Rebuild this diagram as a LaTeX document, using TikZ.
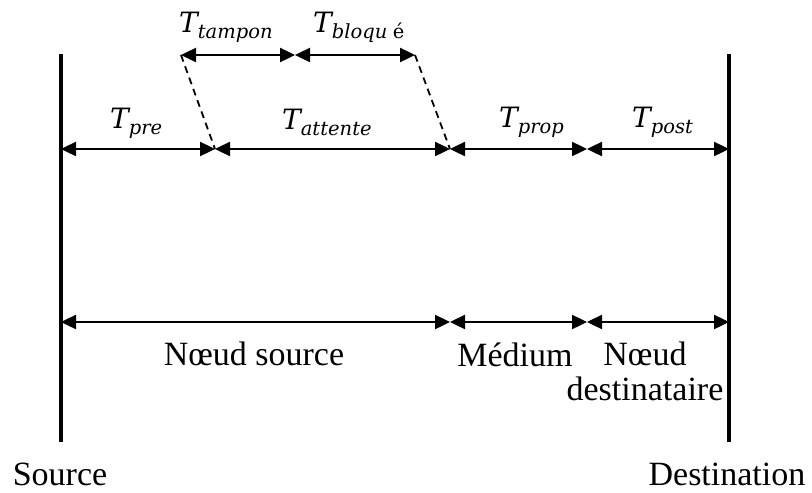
\documentclass[tikz,border=0pt]{standalone}
\usepackage{fontspec}
\setmainfont{Liberation Serif}
\newfontfamily\symfont{DejaVu Serif}
\usetikzlibrary{arrows.meta}
\newcommand\bigT{\fontsize{28}{30}\selectfont\symfont\itshape}
\newcommand\subT{\fontsize{19.5}{20}\selectfont\symfont\itshape}
\newcommand\Tlab[1]{{\bigT T}\raisebox{-6pt}{\subT #1}}
\begin{document}
\begin{tikzpicture}[x=1pt,y=-1pt,
  timeline/.style={line width=4pt},
  span/.style={line width=2.4pt,{Triangle[length=15pt,width=14pt]}-{Triangle[length=15pt,width=14pt]}},
  guide/.style={line width=1.8pt,dash pattern=on 7pt off 5pt},
  tlabel/.style={anchor=base west,inner sep=0pt},
  txt/.style={anchor=base,inner sep=0pt,font=\fontsize{34}{35}\selectfont,align=center}]
\useasboundingbox (0,0) rectangle (812,493);

% source and destination time lines
\coordinate (srcTop) at (61,54);   \coordinate (srcBot) at (61,442);
\coordinate (dstTop) at (729,54);  \coordinate (dstBot) at (729,442);
\draw[timeline] (srcTop) -- (srcBot);
\draw[timeline] (dstTop) -- (dstBot);

% delay components
\coordinate (a0) at (61,149);  \coordinate (a1) at (215,149);
\coordinate (a2) at (450,149); \coordinate (a3) at (587,149);
\coordinate (a4) at (729,149);
\draw[span] (a0) -- (a1);
\draw[span] (a1) -- (a2);
\draw[span] (a2) -- (a3);
\draw[span] (a3) -- (a4);

% split of the waiting time
\coordinate (b0) at (181,55); \coordinate (b1) at (295,55);
\coordinate (b2) at (415,55);
\draw[span] (b0) -- (b1);
\draw[span] (b1) -- (b2);
\draw[guide] (b0) -- (a1);
\draw[guide] (b2) -- (a2);

% where each delay occurs
\coordinate (c0) at (61,322);  \coordinate (c2) at (450,322);
\coordinate (c3) at (587,322); \coordinate (c4) at (729,322);
\draw[span] (c0) -- (c2);
\draw[span] (c2) -- (c3);
\draw[span] (c3) -- (c4);

% delay labels
\node[tlabel] (tpre)  at (110,128) {\Tlab{pre}};
\node[tlabel] (tatt)  at (282,129) {\Tlab{attente}};
\node[tlabel] (tprop) at (499,127) {\Tlab{prop}};
\node[tlabel] (tpost) at (632,127) {\Tlab{post}};
\node[tlabel] (ttamp) at (179,32)  {\Tlab{tampon}};
\node[tlabel] (tbloq) at (313,32)  {\Tlab{bloqu\;{\upshape é}}};

% location labels
\node[txt] (nsrc) at (254,365) {Nœud source};
\node[txt] (nmed) at (515,366) {Médium};
\node[txt] (ndst) at (645,400) {Nœud\\destinataire};
\node[txt] (lsrc) at (60,485)  {Source};
\node[txt] (ldst) at (727,485) {Destination};
\end{tikzpicture}
\end{document}
